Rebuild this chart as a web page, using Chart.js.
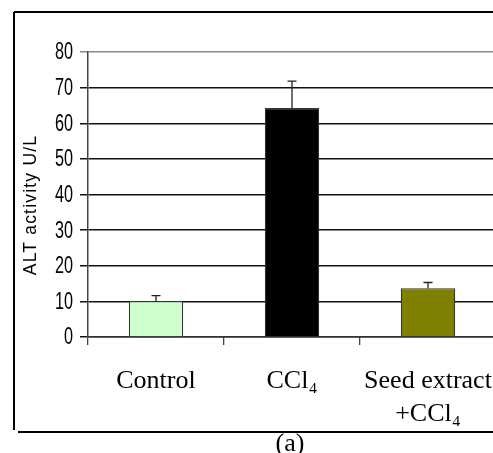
<!DOCTYPE html>
<html>
<head>
<meta charset="utf-8">
<script src="https://cdn.jsdelivr.net/npm/chart.js@4.4.1/dist/chart.umd.min.js"></script>
<style>
  html, body { margin: 0; padding: 0; background: #fff; overflow: hidden; }
  #wrap { position: absolute; left: 0; top: 0; width: 496px; height: 453px; }
</style>
</head>
<body>
<div id="wrap"><canvas id="c" width="496" height="453"></canvas></div>
<script>
const categories = ['Control', 'CCl₄', ['Seed extract', '+CCl₄']];
const altValues = [10.1, 64.3, 13.7];
const altErrors = [1.5, 7.5, 1.6];
const barColors = ['#CCFFCC', '#000000', '#808000'];
const yTicks = [0, 10, 20, 30, 40, 50, 60, 70, 80];
const yTitle = 'ALT activity U/L';
const panelLabel = '(a)';

const errorBars = {
  id: 'errorBars',
  afterDatasetsDraw(chart) {
    const ctx = chart.ctx;
    const meta = chart.getDatasetMeta(0);
    const y = chart.scales.y;
    ctx.save();
    ctx.strokeStyle = '#222';
    ctx.lineWidth = 1.3;
    meta.data.forEach((bar, i) => {
      const x = bar.x;
      const yTop = y.getPixelForValue(altValues[i] + altErrors[i]);
      const yBase = y.getPixelForValue(altValues[i]);
      ctx.beginPath();
      ctx.moveTo(x, yBase);
      ctx.lineTo(x, yTop);
      ctx.moveTo(x - 4.5, yTop);
      ctx.lineTo(x + 4.5, yTop);
      ctx.stroke();
    });
    ctx.restore();
  }
};

// condensed y tick labels (the reference uses a very narrow sans face)
const narrowYLabels = {
  id: 'narrowYLabels',
  afterDraw(chart) {
    const ctx = chart.ctx;
    const y = chart.scales.y;
    ctx.save();
    ctx.fillStyle = '#000';
    ctx.font = '23.5px "Liberation Sans", Arial, sans-serif';
    ctx.textAlign = 'right';
    ctx.textBaseline = 'middle';
    const sx = 0.69;
    y.ticks.forEach((t, i) => {
      const py = y.getPixelForTick(i);
      ctx.save();
      ctx.translate(73, py + 1);
      ctx.scale(sx, 1);
      ctx.fillText(String(t.value), 0, 0);
      ctx.restore();
    });
    ctx.restore();
  }
};

const frame = {
  id: 'frame',
  afterDraw(chart) {
    const ctx = chart.ctx;
    const y = chart.scales.y;
    ctx.save();
    ctx.strokeStyle = '#000';
    ctx.lineWidth = 2;
    ctx.beginPath();
    ctx.moveTo(14, 12); ctx.lineTo(496, 12);
    ctx.moveTo(14, 12); ctx.lineTo(14, 430);
    ctx.moveTo(18, 432); ctx.lineTo(496, 432);
    ctx.stroke();
    // y title
    ctx.fillStyle = '#000';
    ctx.font = '17.5px "Liberation Sans", Arial, sans-serif';
    try { ctx.letterSpacing = '1.2px'; } catch (e) {}
    ctx.textAlign = 'center';
    ctx.textBaseline = 'middle';
    ctx.translate(31, 205);
    ctx.rotate(-Math.PI / 2);
    ctx.fillText(yTitle, 0, 0);
    ctx.setTransform(1, 0, 0, 1, 0, 0);
    try { ctx.letterSpacing = '0px'; } catch (e) {}
    ctx.font = '26px "Liberation Serif", "Times New Roman", serif';
    ctx.textBaseline = 'alphabetic';
    ctx.fillText(panelLabel, 290, 451);
    ctx.restore();
  }
};

new Chart(document.getElementById('c'), {
  type: 'bar',
  data: {
    labels: categories,
    datasets: [{
      data: altValues,
      backgroundColor: barColors,
      borderColor: '#333',
      borderWidth: 1.2,
      barPercentage: 0.4,
      categoryPercentage: 1.0
    }]
  },
  options: {
    responsive: false,
    animation: false,
    devicePixelRatio: 1,
    layout: { padding: { left: 0, right: 0, top: 52, bottom: 0 } },
    plugins: { legend: { display: false }, tooltip: { enabled: false }, title: { display: false } },
    scales: {
      x: {
        afterFit(scale) { scale.height = 453 - 337; scale.paddingRight = 0; scale.paddingLeft = 0; },
        grid: {
          offset: true,
          drawOnChartArea: false,
          drawTicks: true,
          tickLength: 8,
          color: '#444',
          lineWidth: 1.3
        },
        border: { display: true, color: '#333', width: 1.5 },
        ticks: {
          color: '#000',
          padding: 20,
          font: { family: '"Liberation Serif", "Times New Roman", serif', size: 26, lineHeight: 1.27 },
          maxRotation: 0,
          autoSkip: false
        }
      },
      y: {
        min: 0,
        max: 80,
        afterFit(scale) { scale.width = 88; scale.paddingTop = 0; scale.paddingBottom = 0; },
        afterBuildTicks(scale) { scale.ticks = yTicks.map(v => ({ value: v })); },
        grid: {
          drawTicks: true,
          tickLength: 8,
          color: (c) => (c.tick && c.tick.value === 80) ? '#888' : '#111',
          lineWidth: 1.5
        },
        border: { display: true, color: '#444', width: 1.5 },
        ticks: {
          display: false
        }
      }
    }
  },
  plugins: [errorBars, narrowYLabels, frame]
});
</script>
</body>
</html>
